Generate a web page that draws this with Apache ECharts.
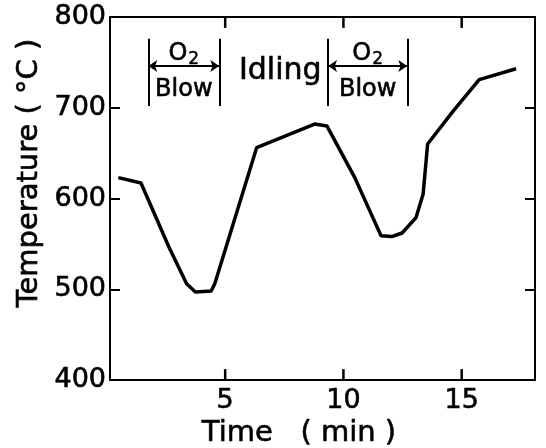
<!DOCTYPE html>
<html><head><meta charset="utf-8">
<script src="https://cdn.jsdelivr.net/npm/echarts@6/dist/echarts.min.js"></script>
<style>html,body{margin:0;padding:0;background:#fff}#c{width:546px;height:448px}</style>
</head><body><div id="c"></div>
<script>
// Curve data (time in min, temperature in °C)
var timeVals = [0.48, 1.44, 2.63, 3.37, 3.74, 4.41, 4.56, 6.33, 8.78, 9.30, 10.48, 11.59, 12.04, 12.48, 13.07, 13.37, 13.56, 14.63, 15.74, 17.30];
var tempVals = [623, 617, 546, 506, 497, 498, 506, 656, 682, 680, 623, 559, 558, 562, 579, 605, 660, 696, 731, 743];
var xTicks = [5, 10, 15];
var yLabels = [400, 500, 600, 700, 800];
var xMin = 0.13, xMax = 18.1, yMin = 400, yMax = 800;
var tickLen = 12; // in temperature units
// Annotation positions (data space)
var blowBounds = [[1.75, 4.75], [9.35, 12.7]];
var barTop = 776, barBottom = 702, arrowY = 746;
var o2Y = 759, blowY = 720;
var idling = {x: 7.33, y: 740, text: 'Idling'};

var font = 'DejaVu Sans';
var curve = timeVals.map(function (t, i) { return [t, tempVals[i]]; });

var markLines = [];
blowBounds.forEach(function (b) {
  markLines.push([{coord: [b[0], barBottom], symbol: 'none'}, {coord: [b[0], barTop], symbol: 'none'}]);
  markLines.push([{coord: [b[1], barBottom], symbol: 'none'}, {coord: [b[1], barTop], symbol: 'none'}]);
  markLines.push([{coord: [b[0], arrowY], symbol: 'arrow'}, {coord: [b[1], arrowY], symbol: 'arrow'}]);
});

var textPts = [];
blowBounds.forEach(function (b) {
  var cx = (b[0] + b[1]) / 2;
  textPts.push({value: [cx, o2Y], label: {formatter: '{a|O}{b|2}'}});
  textPts.push({value: [cx, blowY], label: {formatter: '{a|Blow}'}});
});
textPts.push({value: [idling.x, idling.y], label: {formatter: '{c|' + idling.text + '}'}});

var chart = echarts.init(document.getElementById('c'), null, {renderer: 'canvas'});
var axLine = {show: true, lineStyle: {color: '#000', width: 2}};
var tickStyle = {color: '#000', width: 2};
var lblStyle = {color: '#000', fontFamily: font, fontSize: 27, textBorderColor: '#000', textBorderWidth: 0.6};
var titleGraphics = [
  {type: 'text', x: 29, y: 173, rotation: Math.PI / 2,
   style: {text: 'Temperature ( °C )', font: '29px "DejaVu Sans"', fill: '#000', stroke: '#000', lineWidth: 0.6, textAlign: 'center', textVerticalAlign: 'middle'}},
  {type: 'text', x: 299, y: 433,
   style: {text: 'Time   ( min )', font: '29px "DejaVu Sans"', fill: '#000', stroke: '#000', lineWidth: 0.6, textAlign: 'center', textVerticalAlign: 'middle'}}
];
chart.setOption({
  animation: false,
  backgroundColor: '#fff',
  grid: {left: 110, right: 11, top: 17, bottom: 68},
  xAxis: [{
    type: 'value', min: xMin, max: xMax,
    axisLine: axLine,
    axisTick: {show: false},
    axisLabel: Object.assign({customValues: xTicks, margin: 7}, lblStyle),
    splitLine: {show: false}
  }, {
    type: 'value', position: 'top', min: xMin, max: xMax,
    axisLine: axLine,
    axisTick: {show: false},
    axisLabel: {show: false},
    splitLine: {show: false}
  }],
  yAxis: [{
    type: 'value', min: yMin, max: yMax, interval: 100,
    axisLine: axLine,
    axisTick: {show: true, inside: true, length: 10, lineStyle: tickStyle},
    axisLabel: Object.assign({customValues: yLabels, margin: 4}, lblStyle),
    splitLine: {show: false}
  }, {
    type: 'value', position: 'right', min: yMin, max: yMax, interval: 100,
    axisLine: axLine,
    axisTick: {show: true, inside: true, length: 10, lineStyle: tickStyle},
    axisLabel: {show: false},
    splitLine: {show: false}
  }],
  graphic: titleGraphics,
  series: [{
    type: 'line', data: curve, showSymbol: false, smooth: false,
    lineStyle: {color: '#000', width: 3.5}, z: 3,
    markLine: {
      silent: true, symbolSize: 9, animation: false,
      label: {show: false},
      lineStyle: {color: '#000', width: 2, type: 'solid'},
      data: markLines
    }
  }, {
    type: 'scatter', data: textPts, symbolSize: 0, silent: true,
    itemStyle: {opacity: 1, color: '#000'},
    label: {show: true, position: 'inside', color: '#000', opacity: 1, textBorderColor: '#000', textBorderWidth: 0.6,
      rich: {
        a: {fontFamily: font, fontSize: 24, color: '#000', textBorderColor: '#000', textBorderWidth: 0.6},
        b: {fontFamily: font, fontSize: 17, color: '#000', textBorderColor: '#000', textBorderWidth: 0.5, verticalAlign: 'bottom', padding: [10, 0, 0, 1]},
        c: {fontFamily: font, fontSize: 30, color: '#000', textBorderColor: '#000', textBorderWidth: 0.6}
      }
    }
  }]
});

// inward x ticks on bottom and top frame, placed through the chart's own scale
var tickGraphics = [];
xTicks.forEach(function (t) {
  [[yMin, yMin + tickLen], [yMax - tickLen, yMax]].forEach(function (r) {
    var p0 = chart.convertToPixel({gridIndex: 0}, [t, r[0]]);
    var p1 = chart.convertToPixel({gridIndex: 0}, [t, r[1]]);
    tickGraphics.push({
      type: 'line', silent: true, z: 100,
      shape: {x1: p0[0], y1: p0[1], x2: p1[0], y2: p1[1]},
      style: {stroke: '#000', lineWidth: 2.5}
    });
  });
});
chart.setOption({graphic: titleGraphics.concat(tickGraphics)});
</script></body></html>
